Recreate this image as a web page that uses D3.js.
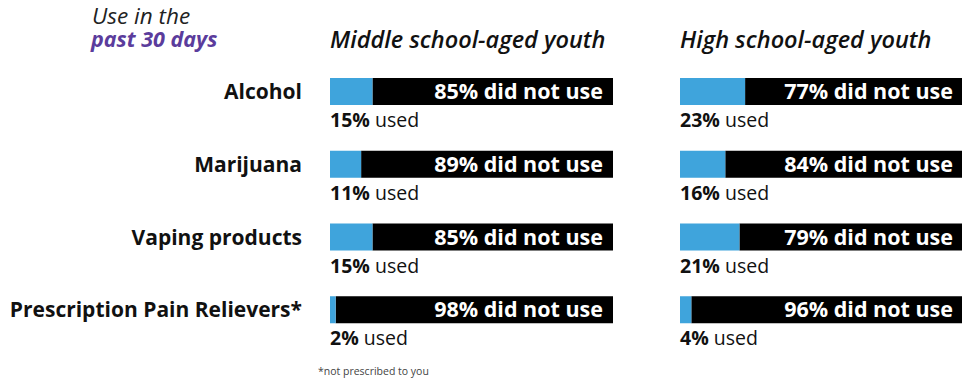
<!DOCTYPE html>
<html>
<head>
<meta charset="utf-8">
<script src="https://cdn.jsdelivr.net/npm/d3@7"></script>
<style>
  body { margin: 0; background: #fff; }
  svg { display: block; font-family: "Open Sans", "DejaVu Sans", sans-serif; }
</style>
</head>
<body>
<div id="vis"></div>
<script>
// data
const categories = ["Alcohol", "Marijuana", "Vaping products", "Prescription Pain Relievers*"]
const groups = ["Middle school-aged youth", "High school-aged youth"]
const middleUsed = [15, 11, 15, 2]
const middleNotUsed = [85, 89, 85, 98]
const highUsed = [23, 16, 21, 4]
const highNotUsed = [77, 84, 79, 96]

const width = 962
const height = 382

const svg = d3.select("#vis")
    .append("svg")
    .attr("width", width)
    .attr("height", height)

//rows, one band per substance
const y = d3.scaleBand()
    .domain(categories)
    .range([78, 369])

const barHeight = 27

//one panel per school group
const panels = [
    { name: groups[0], x0: 330, used: middleUsed, notUsed: middleNotUsed },
    { name: groups[1], x0: 680, used: highUsed, notUsed: highNotUsed }
]

//title on the left
svg.append("text")
    .attr("x", 92)
    .attr("y", 24)
    .attr("font-style", "italic")
    .attr("font-size", 22.5)
    .attr("fill", "#222")
    .text("Use in the")
svg.append("text")
    .attr("x", 91)
    .attr("y", 47)
    .attr("font-style", "italic")
    .attr("font-weight", 700)
    .attr("font-size", 21.5)
    .attr("fill", "#5b3c9c")
    .text("past 30 days")

//row labels
svg.selectAll(".cat")
    .data(categories)
    .enter()
    .append("text")
    .attr("class", "cat")
    .attr("x", 302)
    .attr("y", d => y(d) + 21)
    .attr("text-anchor", "end")
    .attr("font-weight", 700)
    .attr("font-size", 21)
    .attr("fill", "#111")
    .text(d => d)

panels.forEach(p => {
    const x = d3.scaleLinear()
        .domain([0, 100])
        .range([p.x0, p.x0 + 283])

    svg.append("text")
        .attr("x", p.x0)
        .attr("y", 48)
        .attr("font-style", "italic")
        .attr("font-weight", 600)
        .attr("font-size", 23.5)
        .attr("fill", "#111")
        .text(p.name)

    const rows = svg.selectAll(null)
        .data(categories.map((c, i) => ({ cat: c, used: p.used[i], notUsed: p.notUsed[i] })))
        .enter()
        .append("g")

    //black part = did not use
    rows.append("rect")
        .attr("x", d => x(d.used))
        .attr("y", d => y(d.cat))
        .attr("width", d => x(100) - x(d.used))
        .attr("height", barHeight)
        .attr("fill", "#000")

    //blue part = used
    rows.append("rect")
        .attr("x", x(0))
        .attr("y", d => y(d.cat))
        .attr("width", d => x(d.used) - x(0))
        .attr("height", barHeight)
        .attr("fill", "#3fa4dc")

    rows.append("text")
        .attr("x", x(100) - 10)
        .attr("y", d => y(d.cat) + 21)
        .attr("text-anchor", "end")
        .attr("font-weight", 700)
        .attr("font-size", 21.5)
        .attr("fill", "#fff")
        .text(d => d.notUsed + "% did not use")

    const used = rows.append("text")
        .attr("x", x(0))
        .attr("y", d => y(d.cat) + 49)
        .attr("font-size", 19.5)
        .attr("fill", "#111")
    used.append("tspan").attr("font-weight", 700).text(d => d.used + "%")
    used.append("tspan").text(" used")
})

//footnote
svg.append("text")
    .attr("x", 318)
    .attr("y", 375)
    .attr("font-size", 10.5)
    .attr("fill", "#444")
    .text("*not prescribed to you")
</script>
</body>
</html>
